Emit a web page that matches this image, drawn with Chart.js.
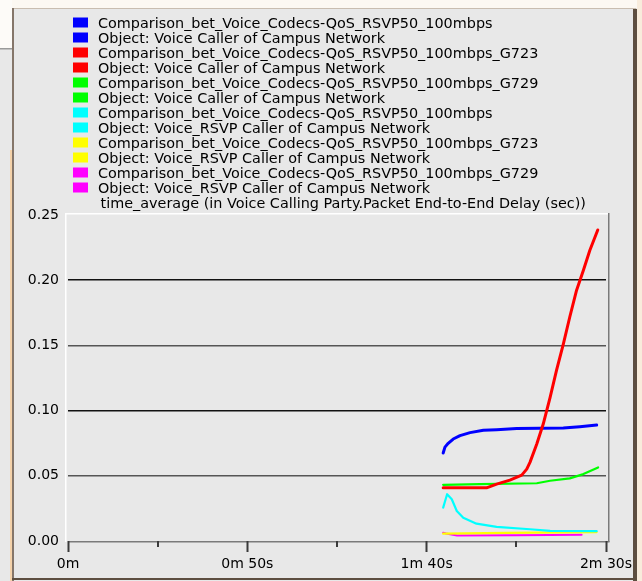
<!DOCTYPE html>
<html>
<head>
<meta charset="utf-8">
<script src="https://cdn.jsdelivr.net/npm/chart.js@4/dist/chart.umd.min.js"></script>
<style>
  html, body { margin: 0; padding: 0; background: #e8e8e8; overflow: hidden; }
  #wrap { position: relative; width: 642px; height: 581px; }
  canvas { display: block; }
</style>
</head>
<body>
<div id="wrap"><canvas id="delayChart" width="642" height="581"></canvas></div>
<script>
// Simulation time (seconds) and time-averaged packet end-to-end delay (seconds) per scenario
const scenarioNames = [
  'Comparison_bet_Voice_Codecs-QoS_RSVP50_100mbps',
  'Comparison_bet_Voice_Codecs-QoS_RSVP50_100mbps_G723',
  'Comparison_bet_Voice_Codecs-QoS_RSVP50_100mbps_G729',
  'Comparison_bet_Voice_Codecs-QoS_RSVP50_100mbps',
  'Comparison_bet_Voice_Codecs-QoS_RSVP50_100mbps_G723',
  'Comparison_bet_Voice_Codecs-QoS_RSVP50_100mbps_G729'
];
const objectNames = [
  'Object: Voice Caller of Campus Network',
  'Object: Voice Caller of Campus Network',
  'Object: Voice Caller of Campus Network',
  'Object: Voice_RSVP Caller of Campus Network',
  'Object: Voice_RSVP Caller of Campus Network',
  'Object: Voice_RSVP Caller of Campus Network'
];
const statisticName = 'time_average (in Voice Calling Party.Packet End-to-End Delay (sec))';

const voiceTimes = [104.6, 105.1, 106.0, 107.4, 109.3, 112.1, 115.8, 119.5, 125.1, 131.6, 138.1, 142.7, 147.4];
const voiceDelay = [0.0675, 0.072, 0.0749, 0.0782, 0.0808, 0.0831, 0.0849, 0.0854, 0.0862, 0.0864, 0.0867, 0.0877, 0.0889];

const g723Times = [104.6, 116.7, 119.5, 123.2, 126.5, 127.9, 128.8, 130.7, 132.5, 134.4, 136.2, 138.1, 139.9, 141.8, 143.7, 145.5, 147.7];
const g723Delay = [0.0408, 0.0408, 0.0436, 0.0467, 0.0505, 0.0551, 0.0603, 0.0744, 0.0897, 0.110, 0.1308, 0.151, 0.1718, 0.1923, 0.2077, 0.223, 0.2385];

const g729Times = [104.6, 114.9, 130.7, 134.4, 139.9, 143.7, 147.8];
const g729Delay = [0.0431, 0.0436, 0.0443, 0.0462, 0.048, 0.0513, 0.0564];

const rsvpTimes = [104.6, 105.7, 107.0, 108.4, 110.2, 113.9, 119.5, 128.8, 134.4, 147.4];
const rsvpDelay = [0.0256, 0.0359, 0.032, 0.023, 0.0179, 0.0133, 0.0108, 0.009, 0.0077, 0.0075];

const rsvpG723Times = [104.6, 122.3, 147.4];
const rsvpG723Delay = [0.0056, 0.0062, 0.0068];

const rsvpG729Times = [104.6, 105.4, 108.5, 125.0, 143.2];
const rsvpG729Delay = [0.0064, 0.0058, 0.0042, 0.0045, 0.0048];

const seriesColors = ['#0000ff', '#ff0000', '#00ff00', '#00ffff', '#ffff00', '#ff00ff'];

// Axis ticks
const xTickValues = [0, 50, 100, 150];
const xTickText = ['0m', '0m 50s', '1m 40s', '2m 30s'];
const xMinorTickValues = [25, 75, 125];
const yTickValues = [0, 0.05, 0.10, 0.15, 0.20, 0.25];

const FONT = '"DejaVu Sans", sans-serif';

function points(times, values) {
  return times.map((t, i) => ({ x: t, y: values[i] }));
}

const seriesData = [
  points(voiceTimes, voiceDelay),
  points(g723Times, g723Delay),
  points(g729Times, g729Delay),
  points(rsvpTimes, rsvpDelay),
  points(rsvpG723Times, rsvpG723Delay),
  points(rsvpG729Times, rsvpG729Delay)
];
const lineWidths = [3, 3, 2.2, 2.2, 2.2, 2];
const drawOrder = [1, -1, 1, 1, 1, 1];

// Window frame and plot panel behind everything
const framePlugin = {
  id: 'frame',
  beforeDraw(chart) {
    const ctx = chart.ctx;
    const W = chart.width, H = chart.height;
    ctx.save();
    ctx.fillStyle = '#e8e8e8';
    ctx.fillRect(0, 0, W, H);
    // surroundings
    ctx.fillStyle = '#fcf8f2';
    ctx.fillRect(0, 0, W, 8);
    ctx.fillStyle = '#fdfbf8';
    ctx.fillRect(0, 0, 12, 48);
    ctx.fillStyle = '#9a9a9a';
    ctx.fillRect(0, 48, 12, 1.5);
    ctx.fillStyle = '#f4d2aa';
    ctx.fillRect(10, 150, 2, H - 150);
    ctx.fillStyle = '#f8ecdc';
    ctx.fillRect(637, 0, W - 637, H);
    // frame border
    ctx.fillStyle = '#c9bdb0';
    ctx.fillRect(12, 8, 624, 1);
    ctx.fillStyle = '#85766a';
    ctx.fillRect(12, 8, 2, H - 8);
    ctx.fillStyle = '#5d4e40';
    ctx.fillRect(633, 9, 4, H - 9);
    ctx.fillRect(12, 578, 625, 2);
    // plot panel (sunken edge)
    const a = chart.chartArea;
    ctx.fillStyle = '#ffffff';
    ctx.fillRect(a.left - 3, a.top - 2, 1.5, a.bottom - a.top + 3);
    ctx.fillRect(a.left - 3, a.top - 2, a.right - a.left + 6, 1.5);
    ctx.fillStyle = '#7a7a7a';
    ctx.fillRect(a.right + 2, a.top - 2, 1.5, a.bottom - a.top + 3);
    ctx.fillRect(a.left, a.bottom, a.right - a.left + 3.5, 1.5);
    ctx.restore();
  }
};

// Short minor tick marks on the time axis
const minorTickPlugin = {
  id: 'minorTicks',
  afterDraw(chart) {
    const ctx = chart.ctx;
    const xs = chart.scales.x;
    const a = chart.chartArea;
    ctx.save();
    ctx.strokeStyle = '#3a3a3a';
    ctx.lineWidth = 2;
    xMinorTickValues.forEach(v => {
      const px = Math.round(xs.getPixelForValue(v));
      ctx.beginPath();
      ctx.moveTo(px, a.bottom);
      ctx.lineTo(px, a.bottom + 6);
      ctx.stroke();
    });
    ctx.restore();
  }
};

// Two-line legend entries per series plus the statistic name
const legendPlugin = {
  id: 'rowLegend',
  afterDraw(chart) {
    const ctx = chart.ctx;
    ctx.save();
    ctx.font = '14.4px ' + FONT;
    ctx.textBaseline = 'alphabetic';
    ctx.textAlign = 'left';
    let row = 0;
    const base = 27.5, step = 15;
    chart.data.datasets.forEach((ds, i) => {
      [scenarioNames[i], objectNames[i]].forEach(text => {
        const y = base + step * row;
        ctx.fillStyle = seriesColors[i];
        ctx.fillRect(73, y - 10, 15, 10);
        ctx.fillStyle = '#000000';
        ctx.fillText(text, 98, y);
        row++;
      });
    });
    ctx.fillStyle = '#000000';
    ctx.fillText(statisticName, 100.5, base + step * row);
    ctx.restore();
  }
};

new Chart(document.getElementById('delayChart'), {
  type: 'line',
  data: {
    datasets: seriesData.map((d, i) => ({
      label: scenarioNames[i],
      data: d,
      borderColor: seriesColors[i],
      backgroundColor: seriesColors[i],
      borderWidth: lineWidths[i],
      pointRadius: 0,
      tension: 0,
      fill: false,
      order: drawOrder[i],
      borderJoinStyle: 'round',
      borderCapStyle: 'round'
    }))
  },
  options: {
    responsive: false,
    animation: false,
    devicePixelRatio: 1,
    layout: { padding: { top: 215, right: 36, left: 0, bottom: 0 } },
    plugins: {
      legend: { display: false },
      tooltip: { enabled: false },
      title: { display: false }
    },
    scales: {
      x: {
        type: 'linear',
        position: 'bottom',
        min: 0,
        max: 150,
        afterBuildTicks(scale) {
          scale.ticks = xTickValues.map(v => ({ value: v }));
        },
        afterFit(scale) { scale.height = 40; },
        ticks: {
          autoSkip: false,
          maxRotation: 0,
          padding: 4,
          color: '#000000',
          font: { family: FONT, size: 14 },
          callback: (v) => {
            const k = xTickValues.indexOf(v);
            return k >= 0 ? xTickText[k] : '';
          }
        },
        grid: {
          drawOnChartArea: false,
          drawTicks: true,
          tickLength: 11,
          tickWidth: 2,
          tickColor: '#3a3a3a'
        },
        border: { display: false }
      },
      y: {
        min: 0,
        max: 0.25,
        afterBuildTicks(scale) {
          scale.ticks = yTickValues.map(v => ({ value: v }));
        },
        afterFit(scale) { scale.width = 68; },
        ticks: {
          padding: 9,
          color: '#000000',
          font: { family: FONT, size: 14 },
          callback: (v) => Number(v).toFixed(2)
        },
        grid: {
          drawTicks: false,
          lineWidth: 1.5,
          color: (c) => {
            const v = Math.round(c.tick.value * 100);
            if (v === 0 || v === 25) return 'rgba(0,0,0,0)';
            return (v === 20 || v === 10) ? '#111111' : '#555555';
          }
        },
        border: { display: false }
      }
    }
  },
  plugins: [framePlugin, minorTickPlugin, legendPlugin]
});
</script>
</body>
</html>
